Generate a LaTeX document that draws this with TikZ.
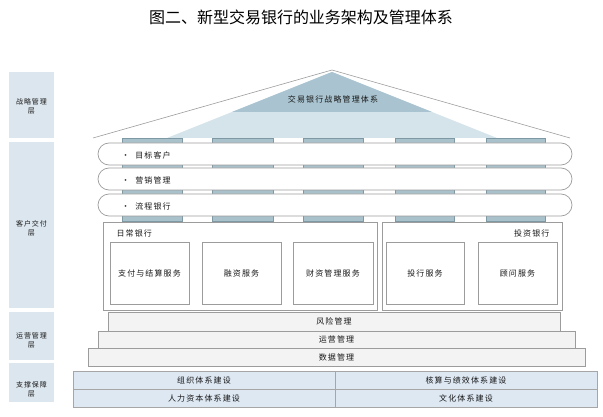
\documentclass[tikz,border=0pt]{standalone}
\usepackage{fontspec}
\setmainfont{Noto Sans CJK SC}
\newfontfamily\spacedcjk{Noto Sans CJK SC}[LetterSpace=14]
\definecolor{layerblue}{HTML}{DCE6EE}
\definecolor{roofdark}{HTML}{A9C4D0}
\definecolor{rooflight}{HTML}{D5E3EA}
\definecolor{pillar}{HTML}{A9C1CB}
\definecolor{pillaredge}{HTML}{7F99A4}
\definecolor{edgegray}{HTML}{9C9C9C}
\definecolor{basegray}{HTML}{F3F3F3}
\definecolor{tableblue}{HTML}{DDE8F3}
\begin{document}
\begin{tikzpicture}[x=1pt,y=-1pt,
    sidelabel/.style={font=\spacedcjk\fontsize{7}{9}\selectfont,align=center,text=black!90},
    bodytext/.style={font=\spacedcjk\fontsize{8}{10}\selectfont,text=black!90},
    svcbox/.style={draw=edgegray,line width=0.8pt,fill=white,inner sep=0pt,
      minimum height=62pt,font=\spacedcjk\fontsize{8}{10}\selectfont,text=black!90},
    baselayer/.style={draw=edgegray,line width=0.6pt,fill=basegray,inner sep=0pt,
      font=\spacedcjk\fontsize{8}{10}\selectfont,text=black!90},
    tablecell/.style={draw=black!35,line width=0.5pt,fill=tableblue,inner sep=0pt,
      minimum width=262pt,minimum height=18pt,font=\spacedcjk\fontsize{8}{10}\selectfont,text=black!90}]
    \useasboundingbox (0,0) rectangle (603,417);
    \node [font=\fontsize{16}{19}\selectfont] (title) at (301,17) {图二、新型交易银行的业务架构及管理体系};
    % layers on the left
    \fill [layerblue] (9,72) rectangle (54,138);
    \fill [layerblue] (9,142) rectangle (54,308);
    \fill [layerblue] (9,312) rectangle (54,360);
    \fill [layerblue] (9,363) rectangle (54,402);
    \node [sidelabel] (strat) at (31.5,106) {战略管理\\层};
    \node [sidelabel] (deliver) at (31.5,228) {客户交付\\层};
    \node [sidelabel] (oper) at (31.5,340) {运营管理\\层};
    \node [sidelabel] (support) at (31.5,389) {支撑保障\\层};
    % roof
    \fill [rooflight] (167,138) -- (332,72) -- (497,138) -- cycle;
    \fill [roofdark] (232,112) -- (332,72) -- (432,112) -- cycle;
    \draw [edgegray, line width=0.6pt] (93,138) -- (332,70) -- (570,138);
    \node [bodytext] (rooftext) at (333,99) {交易银行战略管理体系};
    % pillars
    \draw [pillaredge, fill=pillar, line width=0.5pt] (122,138) rectangle (182,221);
    \draw [pillaredge, fill=pillar, line width=0.5pt] (212,138) rectangle (273,221);
    \draw [pillaredge, fill=pillar, line width=0.5pt] (303,138) rectangle (363,221);
    \draw [pillaredge, fill=pillar, line width=0.5pt] (395,138) rectangle (454,221);
    \draw [pillaredge, fill=pillar, line width=0.5pt] (486,138) rectangle (545,221);
    % customer bars
    \draw [edgegray, fill=white, line width=0.7pt, rounded corners=11pt] (98,143) rectangle (572,165);
    \draw [edgegray, fill=white, line width=0.7pt, rounded corners=11pt] (98,168) rectangle (572,190);
    \draw [edgegray, fill=white, line width=0.7pt, rounded corners=11pt] (98,194) rectangle (572,216);
    \node [bodytext, anchor=west] (target) at (118,155) {•\ \ 目标客户};
    \node [bodytext, anchor=west] (market) at (118,180) {•\ \ 营销管理};
    \node [bodytext, anchor=west] (process) at (118,206) {•\ \ 流程银行};
    % banking blocks
    \draw [edgegray, fill=white, line width=0.8pt] (103,222) rectangle (377,310);
    \draw [edgegray, fill=white, line width=0.8pt] (382,222) rectangle (562,310);
    \node [bodytext, anchor=west] (daily) at (113,233) {日常银行};
    \node [bodytext, anchor=east] (invest) at (553,233) {投资银行};
    \node [svcbox, minimum width=79pt] (pay) at (149.5,273) {支付与结算服务};
    \node [svcbox, minimum width=79pt] (finance) at (241.5,273) {融资服务};
    \node [svcbox, minimum width=80pt] (treasury) at (333,273) {财资管理服务};
    \node [svcbox, minimum width=78pt] (ibank) at (425,273) {投行服务};
    \node [svcbox, minimum width=79pt] (advice) at (517.5,273) {顾问服务};
    % operation layers
    \node [baselayer, minimum width=452pt, minimum height=19pt] (risk) at (334,321.5) {风险管理};
    \node [baselayer, minimum width=477pt, minimum height=17pt] (ops) at (336.5,339.5) {运营管理};
    \node [baselayer, minimum width=497pt, minimum height=18pt] (data) at (336.5,357) {数据管理};
    % support table
    \node [tablecell] (org) at (204,380) {组织体系建设};
    \node [tablecell] (perf) at (466,380) {核算与绩效体系建设};
    \node [tablecell] (hr) at (204,398) {人力资本体系建设};
    \node [tablecell] (culture) at (466,398) {文化体系建设};
  \end{tikzpicture}
\end{document}
